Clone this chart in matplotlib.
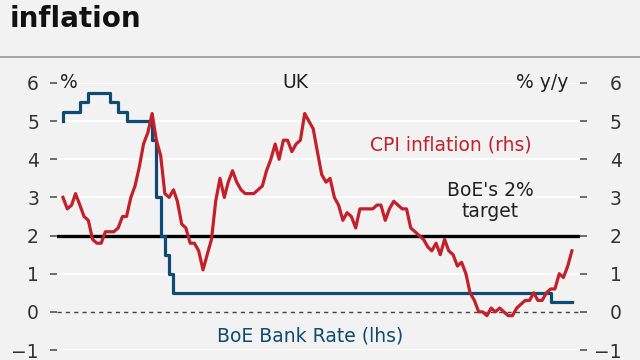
import numpy as np
import pandas as pd
import matplotlib
matplotlib.use("Agg")
import matplotlib.pyplot as plt
from matplotlib.lines import Line2D

# ---- data: monthly, Dec 2006 .. Dec 2016 ----
months = pd.date_range("2006-12-01", "2016-12-01", freq="MS")

cpi_yoy = [
    3.0,
    2.7, 2.8, 3.1, 2.8, 2.5, 2.4, 1.9, 1.8, 1.8, 2.1, 2.1, 2.1,   # 2007
    2.2, 2.5, 2.5, 3.0, 3.3, 3.8, 4.4, 4.7, 5.2, 4.5, 4.1, 3.1,   # 2008
    3.0, 3.2, 2.9, 2.3, 2.2, 1.8, 1.8, 1.6, 1.1, 1.5, 1.9, 2.9,   # 2009
    3.5, 3.0, 3.4, 3.7, 3.4, 3.2, 3.1, 3.1, 3.1, 3.2, 3.3, 3.7,   # 2010
    4.0, 4.4, 4.0, 4.5, 4.5, 4.2, 4.4, 4.5, 5.2, 5.0, 4.8, 4.2,   # 2011
    3.6, 3.4, 3.5, 3.0, 2.8, 2.4, 2.6, 2.5, 2.2, 2.7, 2.7, 2.7,   # 2012
    2.7, 2.8, 2.8, 2.4, 2.7, 2.9, 2.8, 2.7, 2.7, 2.2, 2.1, 2.0,   # 2013
    1.9, 1.7, 1.6, 1.8, 1.5, 1.9, 1.6, 1.5, 1.2, 1.3, 1.0, 0.5,   # 2014
    0.3, 0.0, 0.0, -0.1, 0.1, 0.0, 0.1, 0.0, -0.1, -0.1, 0.1, 0.2,  # 2015
    0.3, 0.3, 0.5, 0.3, 0.3, 0.5, 0.6, 0.6, 1.0, 0.9, 1.2, 1.6,   # 2016
]

bank_rate = (
    [5.0,
     5.25, 5.25, 5.25, 5.25, 5.5, 5.5, 5.75, 5.75, 5.75, 5.75, 5.75, 5.5,  # 2007
     5.5, 5.25, 5.25, 5.0, 5.0, 5.0, 5.0, 5.0, 5.0, 4.5, 3.0, 2.0,       # 2008
     1.5, 1.0]                                                          # Jan-Feb 2009
    + [0.5] * 89      # Mar 2009 - Jul 2016
    + [0.25] * 5      # Aug 2016 - Dec 2016
)

yticks = [-1, 0, 1, 2, 3, 4, 5, 6]

RED = "#c4202b"
BLUE = "#0e4a72"
BG = "#f2f2f2"
INK = "#222222"

# ---- figure ----
fig = plt.figure(figsize=(6.4, 3.6), dpi=100, facecolor=BG)
plt.rcParams["font.family"] = ["DejaVu Sans"]

ax = fig.add_axes([57 / 640, 1 - 350 / 360, (580 - 57) / 640, (350 - 83) / 360])
ax.set_facecolor(BG)
for s in ax.spines.values():
    s.set_visible(False)

ax.set_ylim(-1, 6)
ax.set_xlim(months[0] - pd.Timedelta(days=43), months[-1] + pd.Timedelta(days=58))
ax.set_xticks([])

# grid
for v in yticks:
    if v in (0, 2):
        continue
    ax.axhline(v, color="white", lw=1.3, zorder=1)
ax.axhline(0, color="#444444", lw=1.0, ls=(0, (3, 3)), zorder=2)
ax.axhline(2, color="black", lw=2.4, zorder=3)

ax.plot(months, bank_rate, color=BLUE, lw=2.3, drawstyle="steps-pre", zorder=4)
ax.plot(months, cpi_yoy, color=RED, lw=2.3, zorder=5)

# y axes both sides
ax.set_yticks(yticks)
ax.tick_params(axis="y", length=5, width=1.2, color="#555555", direction="out",
               labelsize=13.5, labelcolor="#333333", pad=8)
ax2 = ax.twinx()
for s in ax2.spines.values():
    s.set_visible(False)
ax2.set_ylim(ax.get_ylim())
ax2.set_yticks(yticks)
ax2.tick_params(axis="y", length=5, width=1.2, color="#555555", direction="out",
                labelsize=13.5, labelcolor="#333333", pad=25)
plt.setp(ax2.get_yticklabels(), ha="right")

# annotations
def mx(i):
    return months[0] + pd.Timedelta(days=30.44 * i)

ax.text(mx(-0.7), 6, "%", fontsize=13.5, color=INK, va="center", ha="left")
ax.text(mx(54.7), 6, "UK", fontsize=13.5, color=INK, va="center", ha="center")
ax.text(mx(119.1), 6, "% y/y", fontsize=13.5, color=INK, va="center", ha="right")
ax.text(mx(91.5), 4.37, "CPI inflation (rhs)", fontsize=13.5, color=RED,
        va="center", ha="center")
ax.text(mx(100.7), 2.9, "BoE's 2%\ntarget", fontsize=13.5, color=INK,
        va="center", ha="center", linespacing=1.15)
ax.text(mx(58.3), -0.63, "BoE Bank Rate (lhs)", fontsize=13.5, color=BLUE,
        va="center", ha="center")

# title and separator
fig.text(10 / 640, 1 - 27 / 360, "inflation", fontsize=20, fontweight="bold",
         color="#111111", ha="left", va="baseline")
fig.add_artist(Line2D([0, 1], [1 - 57 / 360, 1 - 57 / 360], color="#999999", lw=1.2))

fig.savefig("out.png", dpi=100, facecolor=BG)
